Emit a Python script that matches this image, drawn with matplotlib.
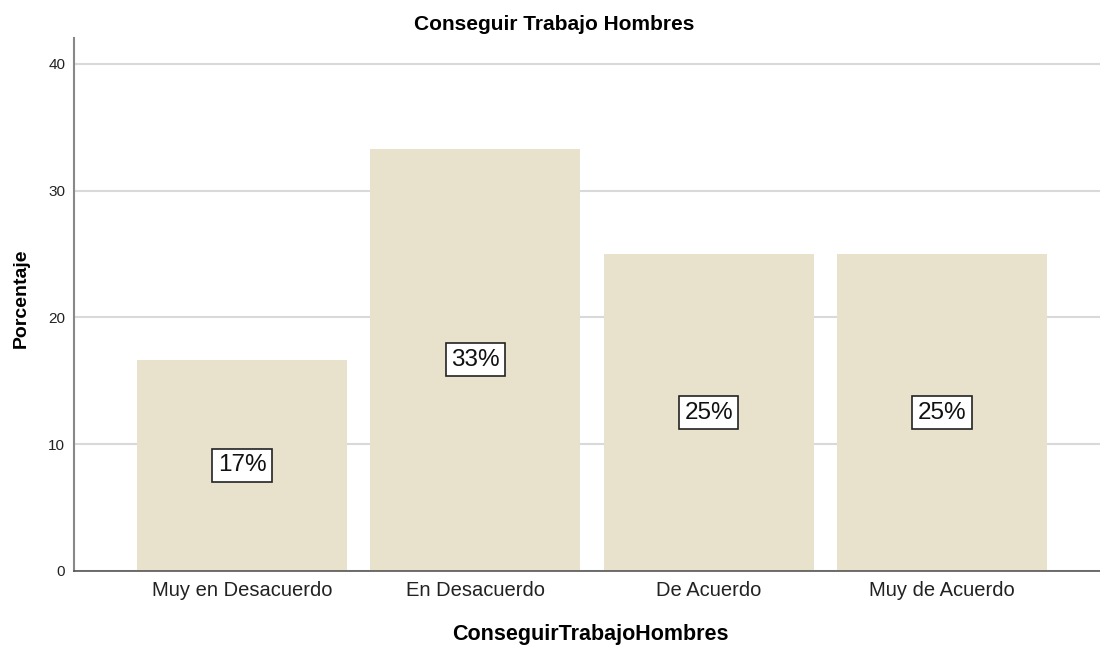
import matplotlib
matplotlib.use("Agg")
import matplotlib.pyplot as plt

plt.rcParams['font.family'] = ['Liberation Sans', 'DejaVu Sans']

categories = ["Muy en Desacuerdo", "En Desacuerdo", "De Acuerdo", "Muy de Acuerdo"]
values = [16.67, 33.33, 25.0, 25.0]
labels = ["17%", "33%", "25%", "25%"]
yticks = [0, 10, 20, 30, 40]

fig = plt.figure(figsize=(11, 6.45), dpi=100)
ax = fig.add_axes([73.5/1100, 74/645, 1 - 73.5/1100, (571-38)/645])

x = list(range(len(categories)))
ax.bar(x, values, width=0.9, color="#e8e2cd", zorder=2)
for xi, v, lab in zip(x, values, labels):
    ax.text(xi, v/2, lab, ha="center", va="center", fontsize=17.5, color="#111111", zorder=3,
            bbox=dict(boxstyle="square,pad=0.22", facecolor="white", edgecolor="#222222", linewidth=1.2))

ax.set_xlim(-0.722, 3.677)
ax.set_ylim(0, 42.05)
ax.set_yticks(yticks)
ax.set_xticks(x)
ax.set_xticklabels(categories, fontsize=14.5, color="#222222")
ax.tick_params(axis="y", length=0, labelsize=11, pad=6, colors="#222222")
ax.tick_params(axis="x", length=0, pad=7)
ax.yaxis.grid(True, color="#d9d9d9", linewidth=1.5, zorder=0)
ax.set_axisbelow(True)
for s in ["top", "right"]:
    ax.spines[s].set_visible(False)
ax.spines["left"].set_color("#888888")
ax.spines["left"].set_linewidth(1.5)
ax.spines["bottom"].set_color("#555555")
ax.spines["bottom"].set_linewidth(1.2)

ax.set_ylabel("Porcentaje", fontsize=14, fontweight="bold", va="center", ha="center")
ax.yaxis.set_label_coords(-0.0511, 0.512)
ax.set_xlabel("ConseguirTrabajoHombres", fontsize=15.5, fontweight="bold", va="center", ha="center")
ax.xaxis.set_label_coords(0.504, -0.12)
fig.text(554/1100, 1 - 25/645, "Conseguir Trabajo Hombres", ha="center", va="center",
         fontsize=15, fontweight="bold")

fig.savefig("out.png", dpi=100)
